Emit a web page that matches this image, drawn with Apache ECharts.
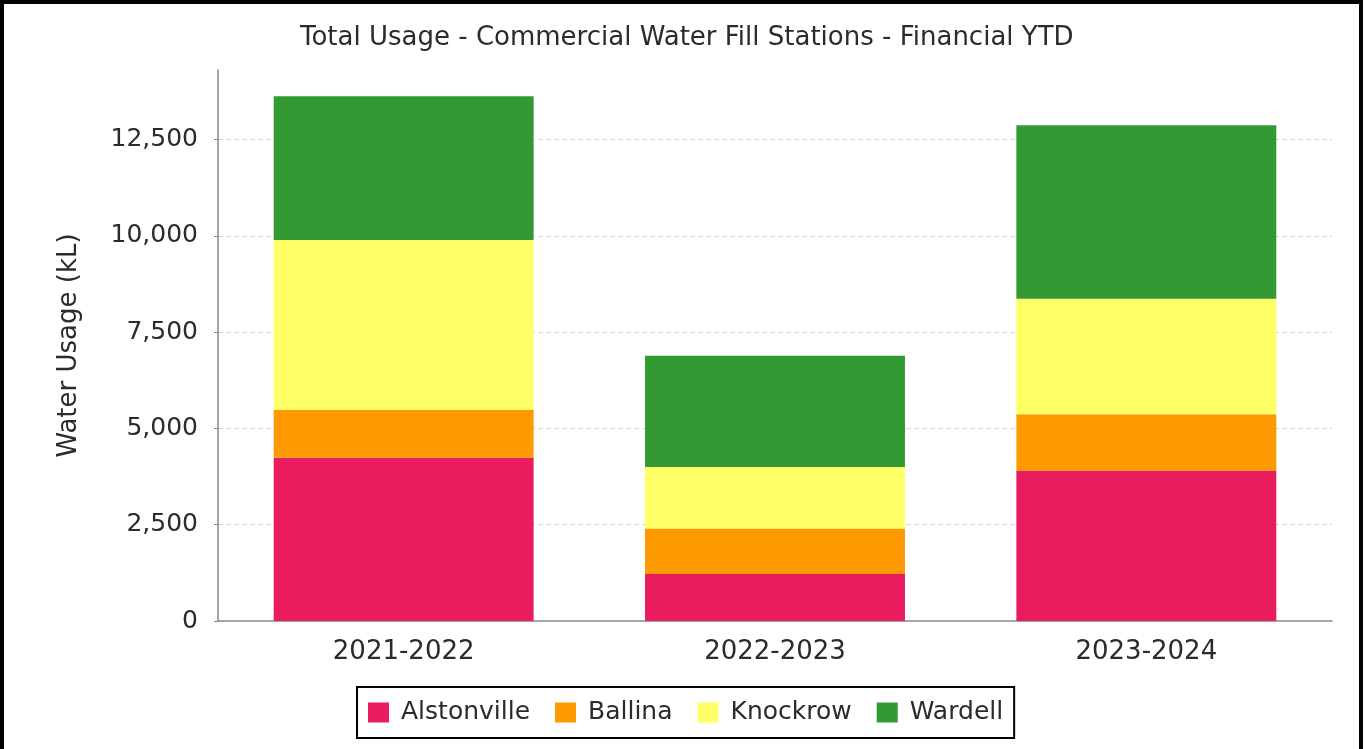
<!DOCTYPE html>
<html>
<head>
<meta charset="utf-8">
<title>Total Usage - Commercial Water Fill Stations</title>
<script src="https://cdn.jsdelivr.net/npm/echarts@6/dist/echarts.min.js"></script>
<style>
  html, body { margin: 0; padding: 0; background: #fff; }
  #usage-chart { position: absolute; left: 0; top: 0; width: 1366px; height: 749px; }
  #frame {
    position: absolute; left: 0; top: 0; width: 1363px; height: 800px;
    box-sizing: border-box; border: 4px solid #000; pointer-events: none;
  }
</style>
</head>
<body>
<div id="usage-chart"></div>
<div id="frame"></div>
<script>
const categories = ['2021-2022', '2022-2023', '2023-2024'];
const alstonville = [4236, 1220, 3909];
const ballina = [1243, 1180, 1461];
const knockrow = [4416, 1600, 3000];
const wardell = [3732, 2890, 4504];
const yTicks = [0, 2500, 5000, 7500, 10000, 12500];

document.addEventListener('DOMContentLoaded', () => {
  const chartContainer = document.getElementById('usage-chart');
  if (!chartContainer || typeof echarts === 'undefined') {
    console.warn('ECharts not available, chart will not render.');
    return;
  }

  const chart = echarts.init(chartContainer, null, { renderer: 'canvas' });
  const numberFormatter = new Intl.NumberFormat('en-US');
  const font = 'DejaVu Sans';
  const textColor = '#2b2b2b';
  const axisColor = '#888';

  const stations = [
    { name: 'Alstonville', data: alstonville, color: '#e91c5d' },
    { name: 'Ballina', data: ballina, color: '#ff9900' },
    { name: 'Knockrow', data: knockrow, color: '#ffff66' },
    { name: 'Wardell', data: wardell, color: '#339933' }
  ];

  const series = stations.map((station) => ({
    name: station.name,
    type: 'bar',
    stack: 'total',
    barWidth: '70%',
    itemStyle: { color: station.color },
    emphasis: { disabled: true },
    data: station.data
  }));

  const option = {
    backgroundColor: '#fff',
    animation: false,
    color: stations.map((s) => s.color),
    title: {
      text: 'Total Usage - Commercial Water Fill Stations - Financial YTD',
      left: 300,
      top: 25,
      padding: 0,
      textStyle: {
        fontFamily: font,
        fontSize: 26,
        fontWeight: 'normal',
        color: textColor
      }
    },
    legend: {
      data: stations.map((s) => s.name),
      left: 357,
      top: 687,
      padding: [13, 11],
      itemWidth: 21,
      itemHeight: 20,
      itemGap: 25,
      icon: 'rect',
      borderColor: '#000',
      borderWidth: 2,
      borderRadius: 0,
      textStyle: {
        fontFamily: font,
        fontSize: 25,
        lineHeight: 20,
        color: textColor,
        padding: [0, 0, 0, 7]
      }
    },
    grid: {
      left: 218,
      right: 34,
      top: 70,
      bottom: 128
    },
    xAxis: {
      type: 'category',
      data: categories,
      axisLine: { lineStyle: { color: axisColor, width: 1.5 } },
      axisTick: { show: false },
      axisLabel: {
        fontFamily: font,
        fontSize: 26,
        color: textColor,
        margin: 18
      }
    },
    yAxis: {
      type: 'value',
      min: 0,
      max: 14308,
      interval: 2500,
      name: 'Water Usage (kL)',
      nameLocation: 'middle',
      nameGap: 136,
      nameRotate: 90,
      nameTextStyle: {
        fontFamily: font,
        fontSize: 26,
        color: textColor
      },
      axisLine: { show: true, lineStyle: { color: axisColor, width: 1.5 } },
      axisTick: {
        show: true,
        length: 4,
        lineStyle: { color: axisColor },
        customValues: yTicks
      },
      axisLabel: {
        fontFamily: font,
        fontSize: 25,
        color: textColor,
        margin: 20,
        customValues: yTicks,
        formatter: (value) => numberFormatter.format(value)
      },
      splitLine: {
        show: true,
        showMinLine: false,
        lineStyle: { color: '#d4d4d4', type: [5, 3], width: 1 }
      }
    },
    series
  };

  chart.setOption(option);

  window.addEventListener('resize', () => {
    chart.resize();
  });
});
</script>
</body>
</html>
